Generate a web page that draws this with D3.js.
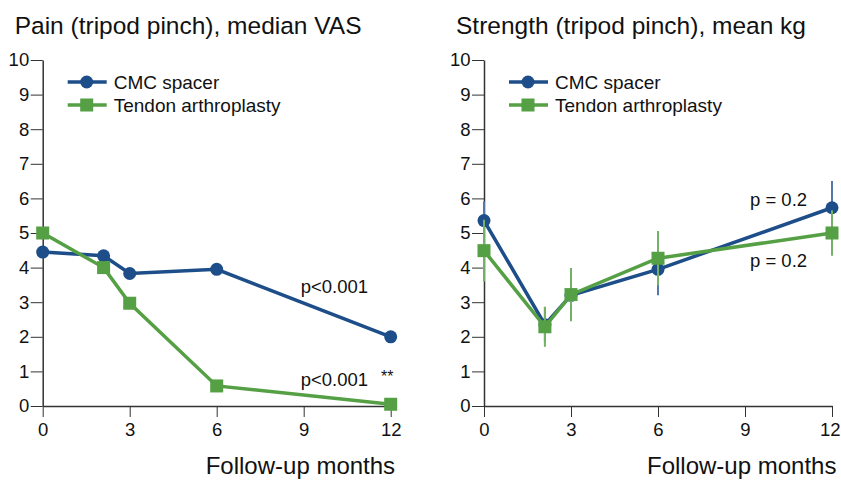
<!DOCTYPE html>
<html>
<head>
<meta charset="utf-8">
<title>Pain and strength</title>
<script src="https://cdn.jsdelivr.net/npm/d3@7"></script>
<style>
  body { margin: 0; padding: 0; background: #fff; }
  svg text { font-family: "Liberation Sans", Arial, sans-serif; fill: #111; }
  .axis path, .axis line { stroke: #333; }
</style>
</head>
<body>
<svg id="chart" width="841" height="483"></svg>
<script>
  // follow-up time points (months)
  var months = [0, 2.1, 3, 6, 12];
  var xTicks = [0, 3, 6, 9, 12];
  var yTicks = [0, 1, 2, 3, 4, 5, 6, 7, 8, 9, 10];

  // pain, median VAS
  var painCmc = [4.45, 4.34, 3.83, 3.95, 2.0];
  var painTendon = [5.0, 4.0, 2.97, 0.58, 0.05];

  // strength, mean kg (+/- error)
  var strengthCmc = [5.36, 2.35, 3.2, 3.95, 5.73];
  var strengthCmcErr = [0.55, 0.5, 0.7, 0.75, 0.77];
  var strengthTendon = [4.49, 2.29, 3.22, 4.27, 5.0];
  var strengthTendonErr = [0.89, 0.58, 0.77, 0.79, 0.66];

  var blue = "#1d4e89", green = "#55a044";
  var blueErr = "#5577aa", greenErr = "#74b166";

  var svg = d3.select("#chart");

  function panel(left, title, cmc, tendon, cmcErr, tendonErr, notes) {
    var x = d3.scaleLinear().domain([0, 12]).range([left, left + 348]);
    var y = d3.scaleLinear().domain([0, 10]).range([406, 60]);
    var g = svg.append("g");

    g.append("text").attr("x", left - 28).attr("y", 34)
      .style("font-size", "24.5px").text(title);

    var xa = g.append("g").attr("class", "axis")
      .attr("transform", "translate(0,406)")
      .call(d3.axisBottom(x).tickValues(xTicks).tickSize(11).tickSizeOuter(0).tickPadding(6));
    xa.select(".domain").attr("stroke-width", 1.5);
    xa.selectAll("text").style("font-size", "18.5px");
    // keep the last label inside the page
    if (x(12) + 11 > 841) {
      xa.selectAll(".tick text").filter(function (d) { return d == 12; })
        .attr("text-anchor", "end").attr("x", 840 - x(12));
    }

    var ya = g.append("g").attr("class", "axis")
      .attr("transform", "translate(" + left + ",0)")
      .call(d3.axisLeft(y).tickValues(yTicks).tickSize(12).tickSizeOuter(0).tickPadding(1.5));
    ya.select(".domain").attr("stroke-width", 1.5);
    ya.selectAll(".tick line").attr("stroke", "#666");
    ya.selectAll("text").style("font-size", "18.5px");

    g.append("text").attr("x", left + 163).attr("y", 474)
      .style("font-size", "24px").text("Follow-up months");

    var line = d3.line().x(function (d, i) { return x(months[i]); }).y(function (d) { return y(d); });

    // blue series
    if (cmcErr) {
      g.selectAll(".eb").data(cmc).enter().append("line")
        .attr("x1", function (d, i) { return x(months[i]); })
        .attr("x2", function (d, i) { return x(months[i]); })
        .attr("y1", function (d, i) { return y(d - cmcErr[i]); })
        .attr("y2", function (d, i) { return y(d + cmcErr[i]); })
        .attr("stroke", blueErr).attr("stroke-width", 2);
    }
    g.append("path").datum(cmc).attr("d", line)
      .attr("fill", "none").attr("stroke", blue).attr("stroke-width", 3.5);
    g.selectAll(".dot").data(cmc).enter().append("circle")
      .attr("cx", function (d, i) { return x(months[i]); })
      .attr("cy", function (d) { return y(d); })
      .attr("r", 6.5).attr("fill", blue);

    // green series
    if (tendonErr) {
      g.selectAll(".ebg").data(tendon).enter().append("line")
        .attr("x1", function (d, i) { return x(months[i]); })
        .attr("x2", function (d, i) { return x(months[i]); })
        .attr("y1", function (d, i) { return y(d - tendonErr[i]); })
        .attr("y2", function (d, i) { return y(d + tendonErr[i]); })
        .attr("stroke", greenErr).attr("stroke-width", 2);
    }
    g.append("path").datum(tendon).attr("d", line)
      .attr("fill", "none").attr("stroke", green).attr("stroke-width", 3.5);
    g.selectAll(".sq").data(tendon).enter().append("rect")
      .attr("x", function (d, i) { return x(months[i]) - 6.5; })
      .attr("y", function (d) { return y(d) - 6.5; })
      .attr("width", 13).attr("height", 13).attr("fill", green);

    // legend
    var leg = [{ name: "CMC spacer", c: blue, sym: "circle" }, { name: "Tendon arthroplasty", c: green, sym: "rect" }];
    leg.forEach(function (d, i) {
      var ly = 82 + i * 23;
      g.append("line").attr("x1", left + 25).attr("x2", left + 64)
        .attr("y1", ly).attr("y2", ly).attr("stroke", d.c).attr("stroke-width", 3.5);
      if (d.sym == "circle") {
        g.append("circle").attr("cx", left + 44).attr("cy", ly).attr("r", 6.5).attr("fill", d.c);
      } else {
        g.append("rect").attr("x", left + 37.5).attr("y", ly - 6.5).attr("width", 13).attr("height", 13).attr("fill", d.c);
      }
      g.append("text").attr("x", left + 71).attr("y", ly + 6.5)
        .style("font-size", "19px").text(d.name);
    });

    notes.forEach(function (n) {
      g.append("text").attr("x", left + n.dx).attr("y", n.y)
        .style("font-size", "18.5px").text(n.t);
    });
  }

  panel(42.7, "Pain (tripod pinch), median VAS", painCmc, painTendon, null, null, [
    { t: "p<0.001", dx: 258, y: 293 },
    { t: "p<0.001", dx: 258, y: 386 }
  ]);
  svg.append("text").attr("x", 381).attr("y", 382).style("font-size", "16px").text("**");

  panel(484, "Strength (tripod pinch), mean kg", strengthCmc, strengthTendon, strengthCmcErr, strengthTendonErr, [
    { t: "p = 0.2", dx: 266, y: 206 },
    { t: "p = 0.2", dx: 266, y: 267 }
  ]);
</script>
</body>
</html>
